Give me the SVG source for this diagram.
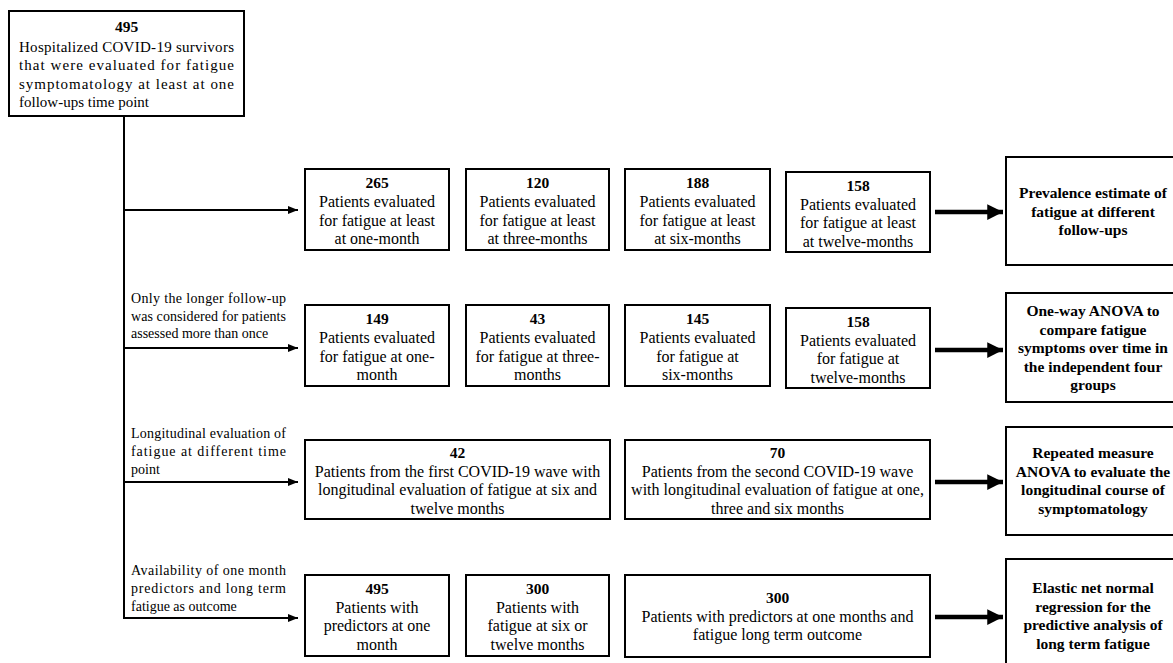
<svg xmlns="http://www.w3.org/2000/svg" width="1173" height="663" viewBox="0 0 1173 663">
<defs>
<style>
.box{fill:#fff;stroke:#000;stroke-width:2}
text{font-family:"Liberation Serif","Times New Roman",serif;fill:#000}
.t{font-size:16px;text-anchor:middle}
.h{font-size:15px}
.b{font-size:15.5px;font-weight:bold;text-anchor:middle}
.l{font-size:14px}
.thin{stroke:#000;stroke-width:2;fill:none}
.thick{stroke:#000;stroke-width:4.5;fill:none}
</style>
<marker id="ah" viewBox="0 0 10 10" refX="10" refY="5" markerWidth="5" markerHeight="5" markerUnits="strokeWidth" orient="auto">
<path d="M0,1 L10,5 L0,9 z" fill="#000"/>
</marker>
<marker id="ahb" viewBox="0 0 10 10" refX="10" refY="5" markerWidth="3.5" markerHeight="3.5" markerUnits="strokeWidth" orient="auto">
<path d="M0,0 L10,5 L0,10 z" fill="#000"/>
</marker>
</defs>

<g id="connectors">
<line class="thin" x1="124" y1="116" x2="124" y2="619"/>
<line class="thin" x1="123" y1="210" x2="298" y2="210" marker-end="url(#ah)"/>
<line class="thin" x1="123" y1="348" x2="298" y2="348" marker-end="url(#ah)"/>
<line class="thin" x1="123" y1="482" x2="298" y2="482" marker-end="url(#ah)"/>
<line class="thin" x1="123" y1="618" x2="298" y2="618" marker-end="url(#ah)"/>
<line class="thick" x1="935" y1="212" x2="1003" y2="212" marker-end="url(#ahb)"/>
<line class="thick" x1="935" y1="350" x2="1003" y2="350" marker-end="url(#ahb)"/>
<line class="thick" x1="935" y1="482" x2="1003" y2="482" marker-end="url(#ahb)"/>
<line class="thick" x1="935" y1="617" x2="1003" y2="617" marker-end="url(#ahb)"/>
</g>

<g id="labels">
<text class="l" x="131" y="303" textLength="155" lengthAdjust="spacing">Only the longer follow-up</text>
<text class="l" x="131" y="321" textLength="155" lengthAdjust="spacing">was considered for patients</text>
<text class="l" x="131" y="338">assessed more than once</text>
<text class="l" x="131" y="438" textLength="155" lengthAdjust="spacing">Longitudinal evaluation of</text>
<text class="l" x="131" y="456" textLength="155" lengthAdjust="spacing">fatigue at different time</text>
<text class="l" x="131" y="474">point</text>
<text class="l" x="131" y="575" textLength="155" lengthAdjust="spacing">Availability of one month</text>
<text class="l" x="131" y="593" textLength="155" lengthAdjust="spacing">predictors and long term</text>
<text class="l" x="131" y="611">fatigue as outcome</text>
</g>

<g id="n_top">
<rect class="box" x="9" y="11" width="235" height="105"/>
<text class="b" x="126.5" y="32">495</text>
<text class="h" x="19" y="51.5" textLength="215" lengthAdjust="spacing">Hospitalized COVID-19 survivors</text>
<text class="h" x="19" y="70" textLength="215" lengthAdjust="spacing">that were evaluated for fatigue</text>
<text class="h" x="19" y="88.5" textLength="215" lengthAdjust="spacing">symptomatology at least at one</text>
<text class="h" x="19" y="107">follow-ups time point</text>
</g>

<g id="n_r1c1">
<rect class="box" x="305" y="169" width="144" height="81"/>
<text class="b" x="377" y="188">265</text>
<text class="t" x="377" y="207">Patients evaluated</text>
<text class="t" x="377" y="225.5">for fatigue at least</text>
<text class="t" x="377" y="244">at one-month</text>
</g>
<g id="n_r1c2">
<rect class="box" x="466" y="169" width="143" height="81"/>
<text class="b" x="537.5" y="188">120</text>
<text class="t" x="537.5" y="207">Patients evaluated</text>
<text class="t" x="537.5" y="225.5">for fatigue at least</text>
<text class="t" x="537.5" y="244">at three-months</text>
</g>
<g id="n_r1c3">
<rect class="box" x="625" y="169" width="145" height="81"/>
<text class="b" x="697.5" y="188">188</text>
<text class="t" x="697.5" y="207">Patients evaluated</text>
<text class="t" x="697.5" y="225.5">for fatigue at least</text>
<text class="t" x="697.5" y="244">at six-months</text>
</g>
<g id="n_r1c4">
<rect class="box" x="786" y="172" width="144" height="80"/>
<text class="b" x="858" y="191">158</text>
<text class="t" x="858" y="209.5">Patients evaluated</text>
<text class="t" x="858" y="228">for fatigue at least</text>
<text class="t" x="858" y="246.5">at twelve-months</text>
</g>
<g id="n_r1res">
<rect class="box" x="1006" y="157" width="175" height="108"/>
<text class="b" x="1093" y="198">Prevalence estimate of</text>
<text class="b" x="1093" y="216.5">fatigue at different</text>
<text class="b" x="1093" y="235">follow-ups</text>
</g>

<g id="n_r2c1">
<rect class="box" x="305" y="305" width="144" height="81"/>
<text class="b" x="377" y="324">149</text>
<text class="t" x="377" y="343">Patients evaluated</text>
<text class="t" x="377" y="361.5">for fatigue at one-</text>
<text class="t" x="377" y="380">month</text>
</g>
<g id="n_r2c2">
<rect class="box" x="466" y="305" width="143" height="81"/>
<text class="b" x="537.5" y="324">43</text>
<text class="t" x="537.5" y="343">Patients evaluated</text>
<text class="t" x="537.5" y="361.5">for fatigue at three-</text>
<text class="t" x="537.5" y="380">months</text>
</g>
<g id="n_r2c3">
<rect class="box" x="625" y="305" width="145" height="81"/>
<text class="b" x="697.5" y="324">145</text>
<text class="t" x="697.5" y="343">Patients evaluated</text>
<text class="t" x="697.5" y="361.5">for fatigue at</text>
<text class="t" x="697.5" y="380">six-months</text>
</g>
<g id="n_r2c4">
<rect class="box" x="786" y="308" width="144" height="80"/>
<text class="b" x="858" y="327">158</text>
<text class="t" x="858" y="345.5">Patients evaluated</text>
<text class="t" x="858" y="364">for fatigue at</text>
<text class="t" x="858" y="382.5">twelve-months</text>
</g>
<g id="n_r2res">
<rect class="box" x="1006" y="293" width="175" height="109"/>
<text class="b" x="1093" y="316">One-way ANOVA to</text>
<text class="b" x="1093" y="334.5">compare fatigue</text>
<text class="b" x="1093" y="353">symptoms over time in</text>
<text class="b" x="1093" y="371.5">the independent four</text>
<text class="b" x="1093" y="390">groups</text>
</g>

<g id="n_r3c1">
<rect class="box" x="305" y="440" width="305" height="79"/>
<text class="b" x="457.5" y="458">42</text>
<text class="t" x="457.5" y="476.5">Patients from the first COVID-19 wave with</text>
<text class="t" x="457.5" y="495">longitudinal evaluation of fatigue at six and</text>
<text class="t" x="457.5" y="513.5">twelve months</text>
</g>
<g id="n_r3c2">
<rect class="box" x="625" y="440" width="305" height="79"/>
<text class="b" x="777.5" y="458">70</text>
<text class="t" x="777.5" y="476.5">Patients from the second COVID-19 wave</text>
<text class="t" x="777.5" y="495">with longitudinal evaluation of fatigue at one,</text>
<text class="t" x="777.5" y="513.5">three and six months</text>
</g>
<g id="n_r3res">
<rect class="box" x="1006" y="427" width="175" height="108"/>
<text class="b" x="1093" y="458">Repeated measure</text>
<text class="b" x="1093" y="476.5">ANOVA to evaluate the</text>
<text class="b" x="1093" y="495">longitudinal course of</text>
<text class="b" x="1093" y="513.5">symptomatology</text>
</g>

<g id="n_r4c1">
<rect class="box" x="305" y="575" width="144" height="81"/>
<text class="b" x="377" y="594">495</text>
<text class="t" x="377" y="612.5">Patients with</text>
<text class="t" x="377" y="631">predictors at one</text>
<text class="t" x="377" y="649.5">month</text>
</g>
<g id="n_r4c2">
<rect class="box" x="466" y="575" width="143" height="81"/>
<text class="b" x="537.5" y="594">300</text>
<text class="t" x="537.5" y="612.5">Patients with</text>
<text class="t" x="537.5" y="631">fatigue at six or</text>
<text class="t" x="537.5" y="649.5">twelve months</text>
</g>
<g id="n_r4c3">
<rect class="box" x="625" y="575" width="305" height="82"/>
<text class="b" x="777.5" y="603">300</text>
<text class="t" x="777.5" y="621.5">Patients with predictors at one months and</text>
<text class="t" x="777.5" y="640">fatigue long term outcome</text>
</g>
<g id="n_r4res">
<rect class="box" x="1006" y="559" width="175" height="115"/>
<text class="b" x="1093" y="593">Elastic net normal</text>
<text class="b" x="1093" y="611.5">regression for the</text>
<text class="b" x="1093" y="630">predictive analysis of</text>
<text class="b" x="1093" y="648.5">long term fatigue</text>
</g>
</svg>
